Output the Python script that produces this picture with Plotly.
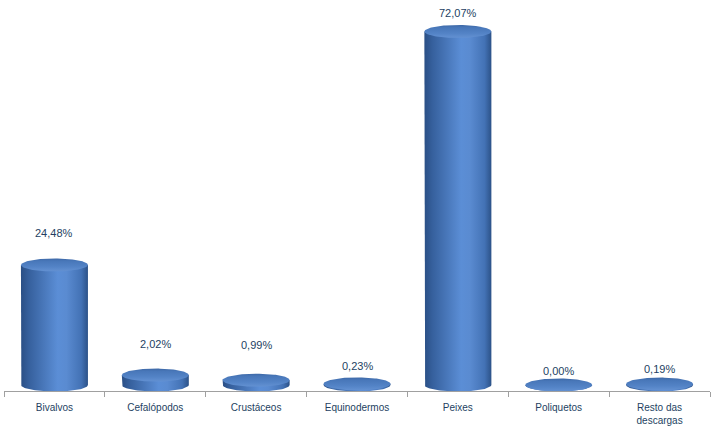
import numpy as np
import plotly.graph_objects as go

categories = ["Bivalvos", "Cefalópodos", "Crustáceos", "Equinodermos", "Peixes", "Poliquetos", "Resto das<br>descargas"]
values = [24.48, 2.02, 0.99, 0.23, 72.07, 0.00, 0.19]
value_labels = ["24,48%", "2,02%", "0,99%", "0,23%", "72,07%", "0,00%", "0,19%"]

# layout geometry (pixels)
W, H = 721, 428
ML, MR, MT, MB = 4, 11, 0, 37
plot_h = H - MT - MB
px_per_unit = 4.905
zero_px_above_axis = 6.0
ymin = -zero_px_above_axis / px_per_unit
ymax = ymin + plot_h / px_per_unit
plot_w = W - ML - MR
px_per_cat = plot_w / 7.0

half_w = 33.5 / px_per_cat          # cylinder half width in x units
half_h = 6.5 / px_per_unit           # ellipse half height in y units

label_shift = [32, 31, 35, 18, 19, 14, 15]

fig = go.Figure()
t_bot = np.linspace(np.pi, 2 * np.pi, 60)
t_full = np.linspace(0, 2 * np.pi, 120)

body_scale = [[0, "#2A4F85"], [0.12, "#36609D"], [0.55, "#5B8ED6"], [0.68, "#5A8BD1"],
              [0.9, "#4372B5"], [1, "#2C5288"]]
top_scale = [[0, "#6391D2"], [0.35, "#5383C6"], [0.8, "#4877B9"], [1, "#3D68A6"]]

for i, v in enumerate(values):
    cx = i
    bx = [cx - half_w, cx - half_w] + list(cx + half_w * np.cos(t_bot)) + [cx + half_w, cx + half_w]
    by = [v, 0] + list(0 + half_h * np.sin(t_bot)) + [0, v]
    fig.add_trace(go.Scatter(
        x=bx, y=by, mode="lines", fill="toself", line=dict(width=0),
        fillgradient=dict(type="horizontal", colorscale=body_scale),
        hoverinfo="skip", showlegend=False))
    tx = cx + half_w * np.cos(t_full)
    ty = v + half_h * np.sin(t_full)
    fig.add_trace(go.Scatter(
        x=tx, y=ty, mode="lines", fill="toself", line=dict(width=0),
        fillgradient=dict(type="vertical", colorscale=top_scale),
        hoverinfo="skip", showlegend=False))
    fig.add_annotation(x=cx, y=v, text=value_labels[i], showarrow=False,
                       yanchor="middle", yshift=label_shift[i],
                       font=dict(family="Liberation Sans", size=11, color="#243F62"))

fig.update_layout(
    width=W, height=H,
    margin=dict(l=ML, r=MR, t=MT, b=MB),
    paper_bgcolor="white", plot_bgcolor="white",
    xaxis=dict(range=[-0.5, 6.5], tickmode="array", tickvals=list(range(7)),
               ticktext=categories, ticks="", showgrid=False, zeroline=False,
               showline=True, linecolor="#A0A0A0", linewidth=1,
               automargin=False, ticklabelstandoff=7,
               tickfont=dict(family="Liberation Sans", size=10, color="#243F62"),
               minor=dict(tickmode="array", tickvals=[k - 0.5 for k in range(8)],
                          ticks="outside", ticklen=5, tickcolor="#A0A0A0", showgrid=False),
               fixedrange=True),
    yaxis=dict(range=[ymin, ymax], visible=False, showgrid=False, zeroline=False,
               automargin=False, fixedrange=True),
)

fig.write_html("out.html", config={"displayModeBar": False},
               post_script="document.body.style.margin='0';document.body.style.overflow='hidden';")
